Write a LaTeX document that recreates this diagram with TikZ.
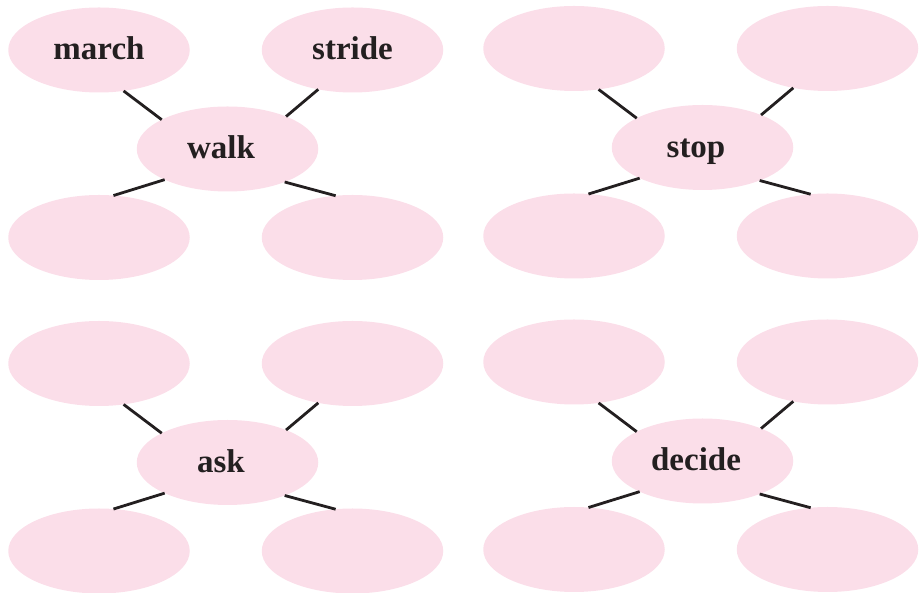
\documentclass[tikz,border=0pt]{standalone}
\usepackage{fontspec}
\setmainfont{Liberation Serif}
\usepackage{xcolor}
\usepackage{tikz}
\usetikzlibrary{shapes,positioning}

\definecolor{bubblepink}{RGB}{251,222,233}
\definecolor{inkblack}{RGB}{35,31,32}

\begin{document}
\begin{tikzpicture}[
            x=1pt, y=1pt,
            on grid,
            bubble/.style={ellipse, fill=bubblepink, minimum width=90.75pt, minimum height=42.5pt, inner sep=0pt, outer sep=0pt, text=inkblack, font=\fontsize{16.5}{18}\selectfont\bfseries, text height=11.5pt, text depth=1.5pt},
            hub/.style={bubble, execute at begin node={\kern-6.5pt}},
            link/.style={draw=inkblack, line width=1.4pt}
        ]

        \useasboundingbox (0,0) rectangle (460,296.5);

        \node[hub] (walk) at (113.75,222) {walk};
        \node[bubble] (march) [above left=49.5pt and 64.25pt of walk] {march};
        \node[bubble] (stride) [above right=49.5pt and 62.5pt of walk] {stride};
        \node[bubble] (walkbl) [below left=44.25pt and 64.25pt of walk] {};
        \node[bubble] (walkbr) [below right=44.25pt and 62.5pt of walk] {};

        \node[hub] (stop) at (351.25,222.75) {stop};
        \node[bubble] (stoptl) [above left=49.5pt and 64.25pt of stop] {};
        \node[bubble] (stoptr) [above right=49.5pt and 62.5pt of stop] {};
        \node[bubble] (stopbl) [below left=44.25pt and 64.25pt of stop] {};
        \node[bubble] (stopbr) [below right=44.25pt and 62.5pt of stop] {};

        \node[hub] (ask) at (113.75,65.25) {ask};
        \node[bubble] (asktl) [above left=49.5pt and 64.25pt of ask] {};
        \node[bubble] (asktr) [above right=49.5pt and 62.5pt of ask] {};
        \node[bubble] (askbl) [below left=44.25pt and 64.25pt of ask] {};
        \node[bubble] (askbr) [below right=44.25pt and 62.5pt of ask] {};

        \node[hub] (decide) at (351.25,66) {decide};
        \node[bubble] (decidetl) [above left=49.5pt and 64.25pt of decide] {};
        \node[bubble] (decidetr) [above right=49.5pt and 62.5pt of decide] {};
        \node[bubble] (decidebl) [below left=44.25pt and 64.25pt of decide] {};
        \node[bubble] (decidebr) [below right=44.25pt and 62.5pt of decide] {};

        \draw[link] (walk.156) -- (march.-59);
        \draw[link] (walk.29) -- (stride.-131);
        \draw[link] (walk.206) -- (walkbl.71);
        \draw[link] (walk.-30) -- (walkbr.112);

        \draw[link] (stop.156) -- (stoptl.-59);
        \draw[link] (stop.29) -- (stoptr.-131);
        \draw[link] (stop.206) -- (stopbl.71);
        \draw[link] (stop.-30) -- (stopbr.112);

        \draw[link] (ask.156) -- (asktl.-59);
        \draw[link] (ask.29) -- (asktr.-131);
        \draw[link] (ask.206) -- (askbl.71);
        \draw[link] (ask.-30) -- (askbr.112);

        \draw[link] (decide.156) -- (decidetl.-59);
        \draw[link] (decide.29) -- (decidetr.-131);
        \draw[link] (decide.206) -- (decidebl.71);
        \draw[link] (decide.-30) -- (decidebr.112);

    \end{tikzpicture}
\end{document}
